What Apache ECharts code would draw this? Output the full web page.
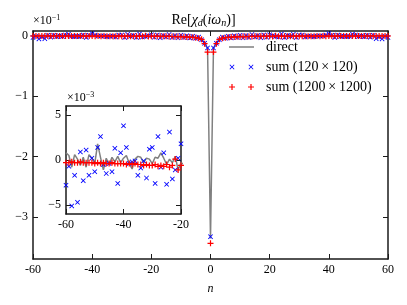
<!DOCTYPE html>
<html><head><meta charset="utf-8">
<script src="https://cdn.jsdelivr.net/npm/echarts@6/dist/echarts.min.js"></script>
<style>html,body{margin:0;padding:0;background:#fff}#c{width:407px;height:305px}</style>
</head><body><div id="c"></div>
<script>
// Matsubara index n = -60 .. 60
const nValues = [];
for (let n = -60; n <= 60; n++) nValues.push(n);

// Re[chi_d(i w_n)] in units of 1e-3
const directVals = [
  0.8, 0.5, -0.8, 0.6, 0.1, -0.6, 0.3, -0.8, 0.6, 0.2, -0.4, 1.8, 0.3, -1.1, 0.2, -0.5, 0.3, -0.2, 0.4, -0.3,
  0.2, 0.5, -0.4, -1.0, 0.1, 0.4, 0.3, -0.3, 0.2, 0.1, -0.4, 0.3, 0.2, 0.8, 0.2, -0.5, 0.1, -0.3, 0.4, -1.1,
  -0.3, -0.5, 0.2, -0.7, -0.3, -0.9, -0.4, -1.0, -0.8, -1.2, -1.1, -1.5, -1.6, -2.0, -2.4, -3.0, -3.8, -5.5, -12, -20,
  -336,
  -20, -12, -5.5, -3.8, -3.0, -2.4, -2.0, -1.6, -1.5, -1.1, -1.2, -0.8, -1.0, -0.4, -0.9, -0.3, -0.7, 0.2, -0.5, -0.3,
  -1.1, 0.4, -0.3, 0.1, -0.5, 0.2, 0.8, 0.2, 0.3, -0.4, 0.1, 0.2, -0.3, 0.3, 0.4, 0.1, -1.0, -0.4, 0.5, 0.2,
  -0.3, 0.4, -0.2, 0.3, -0.5, 0.2, -1.1, 0.3, 1.8, -0.4, 0.2, 0.6, -0.8, 0.3, -0.6, 0.1, 0.6, -0.8, 0.5, 0.8
];
const sum120Vals = [
  -2.8, -0.7, -5.1, -1.7, -4.7, 0.9, -2.3, 1.1, -1.7, 0.2, -1.3, 1.4, 2.6, -0.5, -1.5, -0.4, -1.3, 1.3, -2.6, 0.8,
  3.8, 1.4, -0.4, -0.2, -0.1, -1.7, -0.9, -0.1, -2.0, 1.2, 1.4, -2.6, 2.6, -0.8, 0.8, -2.7, 3.1, -2.1, -1.1, 0.2,
  1.8, -2.4, 1.5, -3.0, 0.6, -1.8, 2.2, -2.6, 0.4, -3.2, 1.0, -2.8, 0.3, -3.5, -0.6, -4.1, -2.0, -6.5, -12.5, -20,
  -333,
  -20, -12.5, -6.5, -2.0, -4.1, -0.6, -3.5, 0.3, -2.8, 1.0, -3.2, 0.4, -2.6, 2.2, -1.8, 0.6, -3.0, 1.5, -2.4, 1.8,
  0.2, -1.1, -2.1, 3.1, -2.7, 0.8, -0.8, 2.6, -2.6, 1.4, 1.2, -2.0, -0.1, -0.9, -1.7, -0.1, -0.2, -0.4, 1.4, 3.8,
  0.8, -2.6, 1.3, -1.3, -0.4, -1.5, -0.5, 2.6, 1.4, -1.3, 0.2, -1.7, 1.1, -2.3, 0.9, -4.7, -1.7, -5.1, -0.7, -2.8
];
const sum1200Vals = [
  -0.3, -0.3, -0.2, -0.3, -0.3, -0.2, -0.3, -0.3, -0.3, -0.3, -0.4, -0.3, -0.4, -0.3, -0.4, -0.4, -0.3, -0.4, -0.4, -0.4,
  -0.4, -0.5, -0.4, -0.5, -0.4, -0.5, -0.5, -0.6, -0.5, -0.6, -0.6, -0.5, -0.7, -0.6, -0.7, -0.5, -0.8, -0.6, 0.1, -1.1,
  -0.6, -0.7, -0.8, -0.8, -0.9, -0.9, -1.0, -1.1, -1.2, -1.3, -1.4, -1.6, -1.8, -2.1, -2.5, -3.1, -3.9, -5.8, -13, -27,
  -344,
  -27, -13, -5.8, -3.9, -3.1, -2.5, -2.1, -1.8, -1.6, -1.4, -1.3, -1.2, -1.1, -1.0, -0.9, -0.9, -0.8, -0.8, -0.7, -0.6,
  -1.1, 0.1, -0.6, -0.8, -0.5, -0.7, -0.6, -0.7, -0.5, -0.6, -0.6, -0.5, -0.6, -0.5, -0.5, -0.4, -0.5, -0.4, -0.5, -0.4,
  -0.4, -0.4, -0.4, -0.3, -0.4, -0.4, -0.3, -0.4, -0.3, -0.4, -0.3, -0.3, -0.3, -0.3, -0.2, -0.3, -0.3, -0.2, -0.3, -0.3
];

const seriesNames = ['direct', 'sum (120\u2009\u00d7\u2009120)', 'sum (1200\u2009\u00d7\u20091200)'];
const mainXTicks = [-60, -40, -20, 0, 20, 40, 60];
const mainYTicks = [-300, -200, -100, 0];      // shown as ×10^-1
const insetXTicks = [-60, -40, -20];
const insetYTicks = [-5, 0, 5];                 // shown as ×10^-3

const FONT = 'Liberation Serif';
const PLUS = 'path://M2.4,0H3.6V2.4H6V3.6H3.6V6H2.4V3.6H0V2.4H2.4Z';
const CROSS = 'path://M0,0.6L0.6,0L2.5,1.9L4.4,0L5,0.6L3.1,2.5L5,4.4L4.4,5L2.5,3.1L0.6,5L0,4.4L1.9,2.5Z';
const PLUS2 = 'path://M2.4,0H3.6V2.4H6V3.6H3.6V6H2.4V3.6H0V2.4H2.4ZM21.4,0H22.6V2.4H25V3.6H22.6V6H21.4V3.6H19V2.4H21.4Z';
const CROSS2 = 'path://M0.5,1.1L1.1,0.5L3,2.4L4.9,0.5L5.5,1.1L3.6,3L5.5,4.9L4.9,5.5L3,3.6L1.1,5.5L0.5,4.9L2.4,3ZM19.5,1.1L20.1,0.5L22,2.4L23.9,0.5L24.5,1.1L22.6,3L24.5,4.9L23.9,5.5L22,3.6L20.1,5.5L19.5,4.9L21.4,3ZM0,0H0.01V0.01ZM25,6H24.99V5.99Z';
const LINE2 = 'path://M0,2.25H25V3.75H0ZM0,0H0.01V0.01ZM25,6H24.99V5.99Z';

const pairs = vals => nValues.map((n, i) => [n, vals[i]]);
const minusFmt = v => (v < 0 ? '\u2212' + Math.abs(v) : String(v));

const axisLine = { show: true, onZero: false, lineStyle: { color: '#1a1a1a', width: 1.5 } };
const tick = (vals) => ({ show: true, inside: true, length: 5, customValues: vals, lineStyle: { color: '#1a1a1a', width: 1 } });
const lbl = { fontFamily: FONT, fontSize: 12, color: '#000' };

function xAx(grid, min, max, ticks, pos, show, extra) {
  return Object.assign({
    type: 'value', gridIndex: grid, position: pos, min: min, max: max,
    axisLine: axisLine, axisTick: tick(ticks), splitLine: { show: false },
    axisLabel: Object.assign({ show: show, customValues: ticks, margin: 5, formatter: v => String(v) }, lbl)
  }, extra || {});
}
function yAx(grid, min, max, ticks, pos, show, fmt) {
  return {
    type: 'value', gridIndex: grid, position: pos, min: min, max: max,
    axisLine: axisLine, axisTick: tick(ticks), splitLine: { show: false },
    axisLabel: Object.assign({ show: show, customValues: ticks, margin: 5, formatter: fmt }, lbl)
  };
}

const chart = echarts.init(document.getElementById('c'), null, { renderer: 'canvas' });
chart.setOption({
  animation: false,
  backgroundColor: '#fff',
  title: {
    text: '{r|Re[}{i|\u03c7}{s|d}{r|(}{i|i\u03c9}{s|n}{r|)]}',
    left: 'center', top: 7,
    textStyle: {
      fontWeight: 'normal',
      rich: {
        r: { fontFamily: FONT, fontSize: 14, fontWeight: 'normal', color: '#000', lineHeight: 16 },
        i: { fontFamily: FONT, fontSize: 14, fontWeight: 'normal', fontStyle: 'italic', color: '#000', lineHeight: 16 },
        s: { fontFamily: FONT, fontSize: 10, fontWeight: 'normal', fontStyle: 'italic', color: '#000', lineHeight: 16, verticalAlign: 'bottom' }
      }
    }
  },
  legend: {
    orient: 'vertical', left: 229, top: 40, padding: 0,
    itemWidth: 25, itemHeight: 6, itemGap: 6,
    textStyle: { fontFamily: FONT, fontSize: 14, color: '#000', lineHeight: 14, padding: [0, 0, 0, 7] },
    data: [
      { name: seriesNames[0], icon: LINE2 },
      { name: seriesNames[1], icon: CROSS2 },
      { name: seriesNames[2], icon: PLUS2 }
    ]
  },
  graphic: [
    { type: 'text', left: 33, top: 14, style: { text: '{a|\u00d710}{b|\u22121}', rich: {
      a: { fontFamily: FONT, fontSize: 12, color: '#000', lineHeight: 14 },
      b: { fontFamily: FONT, fontSize: 8, color: '#000', lineHeight: 14, verticalAlign: 'top' } } } },
    { type: 'text', left: 67, top: 91, style: { text: '{a|\u00d710}{b|\u22123}', rich: {
      a: { fontFamily: FONT, fontSize: 12, color: '#000', lineHeight: 14 },
      b: { fontFamily: FONT, fontSize: 8, color: '#000', lineHeight: 14, verticalAlign: 'top' } } } }
  ],
  grid: [
    { left: 33, right: 19, top: 31, bottom: 46 },
    { left: 66, top: 106, width: 115, height: 108, show: true, backgroundColor: '#fff', borderWidth: 0 }
  ],
  xAxis: [
    xAx(0, -60, 60, mainXTicks, 'bottom', true, {
      name: 'n', nameLocation: 'middle', nameGap: 24,
      nameTextStyle: { fontFamily: FONT, fontSize: 12, fontStyle: 'italic', color: '#000' } }),
    xAx(0, -60, 60, mainXTicks, 'top', false),
    xAx(1, -60, -20, insetXTicks, 'bottom', true),
    xAx(1, -60, -20, insetXTicks, 'top', false)
  ],
  yAxis: [
    yAx(0, -370, 8, mainYTicks, 'left', true, v => minusFmt(v / 100)),
    yAx(0, -370, 8, mainYTicks, 'right', false, v => ''),
    yAx(1, -6, 6, insetYTicks, 'left', true, v => minusFmt(v)),
    yAx(1, -6, 6, insetYTicks, 'right', false, v => '')
  ],
  series: [
    { name: seriesNames[0], type: 'line', xAxisIndex: 0, yAxisIndex: 0, data: pairs(directVals),
      symbol: 'none', lineStyle: { color: '#808080', width: 1.5 }, itemStyle: { color: '#808080' }, z: 2 },
    { name: seriesNames[1], type: 'scatter', xAxisIndex: 0, yAxisIndex: 0, data: pairs(sum120Vals),
      symbol: CROSS, symbolSize: 5, itemStyle: { color: '#0000ff', opacity: 1 }, z: 3 },
    { name: seriesNames[2], type: 'scatter', xAxisIndex: 0, yAxisIndex: 0, data: pairs(sum1200Vals),
      symbol: PLUS, symbolSize: 6, itemStyle: { color: '#ff0000', opacity: 1 }, z: 4 },
    { name: seriesNames[0], type: 'line', xAxisIndex: 2, yAxisIndex: 2, data: pairs(directVals),
      symbol: 'none', clip: true, lineStyle: { color: '#808080', width: 1.5 }, itemStyle: { color: '#808080' }, z: 5 },
    { name: seriesNames[1], type: 'scatter', xAxisIndex: 2, yAxisIndex: 2, data: pairs(sum120Vals),
      symbol: CROSS, symbolSize: 5, clip: true, itemStyle: { color: '#0000ff', opacity: 1 }, z: 6 },
    { name: seriesNames[2], type: 'scatter', xAxisIndex: 2, yAxisIndex: 2, data: pairs(sum1200Vals),
      symbol: PLUS, symbolSize: 6, clip: true, itemStyle: { color: '#ff0000', opacity: 1 }, z: 7 }
  ]
});
</script>
</body></html>
